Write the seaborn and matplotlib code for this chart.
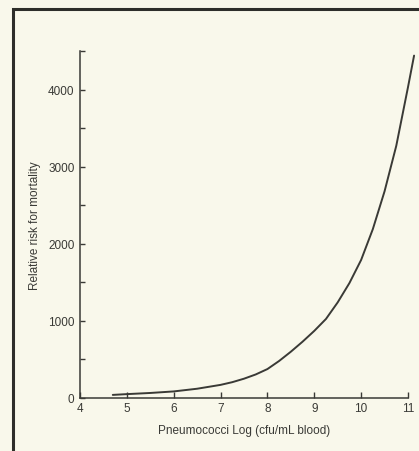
import numpy as np
import pandas as pd
import matplotlib
matplotlib.use('Agg')
import matplotlib.pyplot as plt
import seaborn as sns
from matplotlib.patches import Rectangle
from matplotlib.ticker import MultipleLocator

# Valores
log_cfu = [4.7, 5.0, 5.5, 6.0, 6.5, 7.0, 7.25, 7.5, 7.75, 8.0, 8.25, 8.5, 8.75, 9.0,
           9.25, 9.5, 9.75, 10.0, 10.25, 10.5, 10.75, 11.0, 11.13]
risco = [40, 50, 65, 85, 120, 170, 205, 250, 305, 375, 480, 600, 730, 870,
         1025, 1240, 1490, 1790, 2190, 2680, 3270, 4030, 4440]

x_ticks = [4, 5, 6, 7, 8, 9, 10, 11]
y_ticks = [0, 1000, 2000, 3000, 4000]

dados = pd.DataFrame({'Log': log_cfu, 'Risco': risco})

sns.set_style('ticks')
plt.rcParams['font.family'] = ['Liberation Sans', 'DejaVu Sans']

bg = '#f9f8eb'
ink = '#3a3a36'

fig = plt.figure(figsize=(4.19, 4.52), dpi=100, facecolor=bg)
ax = fig.add_axes([0.1909, 0.1173, 0.7828, 0.7677])
ax.set_facecolor(bg)

sns.lineplot(data=dados, x='Log', y='Risco', color=ink, linewidth=1.4, ax=ax)
for ln in ax.lines:
    ln.set_clip_on(False)
    ln.set_solid_joinstyle('round')

ax.set_xlim(4, 11)
ax.set_ylim(0, 4500)
ax.set_xticks(x_ticks)
ax.set_yticks(y_ticks)
ax.yaxis.set_minor_locator(MultipleLocator(500))

for s in ['top', 'right']:
    ax.spines[s].set_visible(False)
for s in ['left', 'bottom']:
    ax.spines[s].set_color(ink)
    ax.spines[s].set_linewidth(1.1)

ax.tick_params(axis='x', direction='in', length=4, width=1, colors=ink,
               labelsize=8.5, pad=3)
ax.tick_params(axis='y', which='both', direction='in', length=3.5, width=1,
               colors=ink, labelsize=8.5, pad=4)

ax.set_xlabel('Pneumococci Log (cfu/mL blood)', fontsize=8.5, color=ink, labelpad=7)
ax.set_ylabel('Relative risk for mortality', fontsize=8.5, color=ink, labelpad=5)

# Moldura da figura
fig.patches.append(Rectangle((13 / 419, -0.1), 1.2, 1 - 10 / 452 + 0.1,
                             transform=fig.transFigure, fill=False,
                             edgecolor='#2e2e2a', linewidth=2.2))

plt.savefig('out.png', dpi=100, facecolor=bg)
